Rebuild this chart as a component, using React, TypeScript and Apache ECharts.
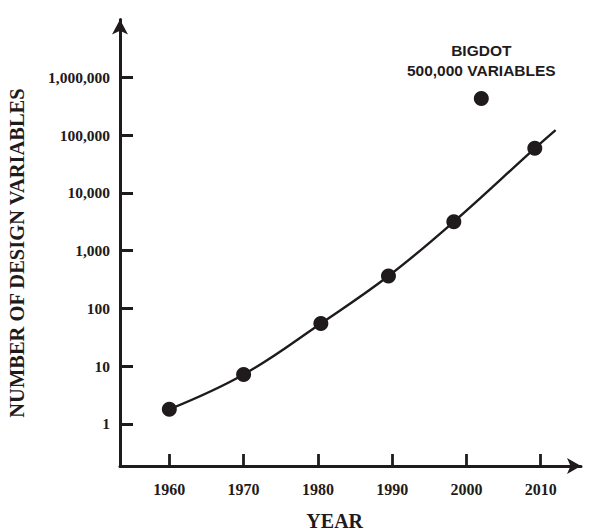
import React, { useEffect, useRef } from "react";
import * as echarts from "echarts";

const years = [1960, 1970, 1980.4, 1989.5, 1998.3, 2009.2];
const designVariables = [1.8, 7.2, 55, 364, 3160, 58900];
const bigdotYear = 2002;
const bigdotValue = 431000;
const bigdotLabel = ["BIGDOT", "500,000 VARIABLES"];
const curveYears = [1960, 1970, 1980.4, 1989.5, 1998.3, 2009.2, 2012];
const curveValues = [1.8, 7.2, 55, 364, 3160, 58900, 122000];
const xTicks = [1960, 1970, 1980, 1990, 2000, 2010];
const yTicks = [1, 10, 100, 1000, 10000, 100000, 1000000];
const yTickLabels = ["1", "10", "100", "1,000", "10,000", "100,000", "1,000,000"];
const xTitle = "YEAR";
const yTitle = "NUMBER OF DESIGN VARIABLES";

const INK = "#1f1b1c";
const SERIF = "'Liberation Serif', 'Times New Roman', serif";
const SANS = "'Liberation Sans', Arial, sans-serif";

export default function App() {
  const ref = useRef<HTMLDivElement>(null);
  useEffect(() => {
    if (!ref.current) return;
    const chart = echarts.init(ref.current, undefined, { renderer: "svg" });
    const labelFor = (v: number) => {
      const i = yTicks.findIndex((t) => Math.abs(Math.log10(t) - Math.log10(v)) < 1e-6);
      return i >= 0 ? yTickLabels[i] : "";
    };
    chart.setOption({
      animation: false,
      backgroundColor: "#ffffff",
      grid: { left: 120, right: 8, top: 19.5, bottom: 65, containLabel: false },
      xAxis: {
        type: "value",
        min: 1953.36,
        max: 2015.42,
        splitLine: { show: false },
        axisLine: {
          show: true,
          onZero: false,
          symbol: ["none", "arrow"],
          symbolSize: [12, 14],
          lineStyle: { color: INK, width: 3 },
        },
        axisTick: {
          show: true,
          inside: true,
          length: 12,
          customValues: xTicks,
          lineStyle: { color: INK, width: 2.8 },
        },
        axisLabel: {
          show: true,
          customValues: xTicks,
          margin: 15,
          color: INK,
          fontFamily: SERIF,
          fontWeight: "bold",
          fontSize: 16,
          formatter: (v: number) => String(Math.round(v)),
        },
      },
      yAxis: {
        type: "log",
        logBase: 10,
        min: 0.1875,
        max: 10000000,
        splitLine: { show: false },
        axisLine: {
          show: true,
          onZero: false,
          symbol: ["none", "arrow"],
          symbolSize: [12, 15],
          lineStyle: { color: INK, width: 3 },
        },
        axisTick: {
          show: true,
          inside: true,
          length: 13,
          customValues: yTicks,
          lineStyle: { color: INK, width: 3 },
        },
        axisLabel: {
          show: true,
          customValues: yTicks,
          margin: 10,
          color: INK,
          fontFamily: SERIF,
          fontWeight: "bold",
          fontSize: 15.5,
          formatter: (v: number) => labelFor(v),
        },
      },
      series: [
        {
          type: "line",
          data: curveYears.map((x, i) => [x, curveValues[i]]),
          smooth: 0.4,
          showSymbol: false,
          symbol: "none",
          lineStyle: { color: INK, width: 2.4, opacity: 1 },
          z: 2,
        },
        {
          type: "scatter",
          data: years.map((x, i) => [x, designVariables[i]]),
          symbol: "circle",
          symbolSize: 15,
          itemStyle: { color: INK, opacity: 1 },
          z: 3,
        },
        {
          type: "scatter",
          data: [[bigdotYear, bigdotValue]],
          symbol: "circle",
          symbolSize: 15,
          itemStyle: { color: INK, opacity: 1 },
          label: {
            show: true,
            position: "top",
            distance: 10,
            formatter: bigdotLabel.join("\n"),
            color: INK,
            fontFamily: SANS,
            fontWeight: "bold",
            fontSize: 15.5,
            lineHeight: 20,
            align: "center",
          },
          z: 3,
        },
      ],
      graphic: [
        {
          type: "text",
          x: 334.7,
          y: 520.7,
          style: {
            text: xTitle,
            fill: INK,
            font: `bold 20px ${SERIF}`,
            align: "center",
            verticalAlign: "middle",
          },
        },
        {
          type: "text",
          x: 17,
          y: 253,
          rotation: Math.PI / 2,
          style: {
            text: yTitle,
            fill: INK,
            font: `bold 20.5px ${SERIF}`,
            align: "center",
            verticalAlign: "middle",
          },
        },
      ],
    });
    return () => chart.dispose();
  }, []);
  return (
    <div
      ref={ref}
      style={{ position: "fixed", left: 0, top: 0, width: 589, height: 531, background: "#fff" }}
    />
  );
}
